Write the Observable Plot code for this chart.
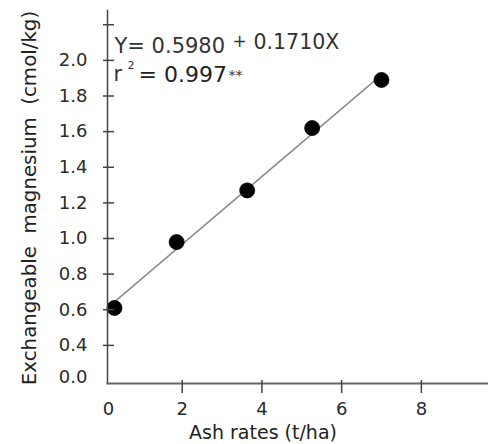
<!DOCTYPE html>
<html>
<head>
<meta charset="utf-8">
<script src="https://cdn.jsdelivr.net/npm/d3@7"></script>
<script src="https://cdn.jsdelivr.net/npm/@observablehq/plot@0.6"></script>
<style>
  html, body { margin: 0; padding: 0; background: #fff; }
  #chart { width: 488px; height: 444px; }
</style>
</head>
<body>
<div id="chart"></div>
<script>
// Data
const ashRates = [0.3, 1.86, 3.63, 5.26, 7.0];          // t/ha
const magnesium = [0.61, 0.98, 1.27, 1.62, 1.89];       // cmol/kg

// Tick values and labels
const yTickValues = [0.4, 0.6, 0.8, 1.0, 1.2, 1.4, 1.6, 1.8, 2.0, 2.2];
const yTickLabels = ["0.4", "0.6", "0.8", "1.0", "1.2", "1.4", "1.6", "1.8", "2.0", ""];
const yZeroValue = 0.22;       // where the (broken-axis) "0.0" label sits
const yZeroLabel = "0.0";
const xTickValues = [2, 4, 6, 8];
const xTickLabels = ["2", "4", "6", "8"];
const xZeroValue = 0.15;
const xZeroLabel = "0";

const xLabel = "Ash rates (t/ha)";
const yLabel = "Exchangeable  magnesium  (cmol/kg)";
const eqParts = ["Y= 0.5980", "+", "0.1710X"];
const r2Parts = ["r", "2", "= 0.997", "**"];

const data = ashRates.map((x, i) => ({x, y: magnesium[i]}));
const yLabelMap = new Map(yTickValues.map((v, i) => [v, yTickLabels[i]]));
const xLabelMap = new Map(xTickValues.map((v, i) => [v, xTickLabels[i]]));

const font = "DejaVu Sans";
const txt = (s, o) => Plot.text([s], {text: d => d, frameAnchor: "top-left", textAnchor: "start", lineAnchor: "bottom", fontFamily: font, fill: "#333", ...o});

const chart = Plot.plot({
  width: 488,
  height: 444,
  marginLeft: 107,
  marginRight: 0,
  marginTop: 10,
  marginBottom: 61,
  style: {fontFamily: font, background: "#fff", color: "#222"},
  x: {domain: [0.125, 9.685]},
  y: {domain: [0.186, 2.28]},
  marks: [
    Plot.linearRegressionY(data, {x: "x", y: "y", stroke: "#8a8a8a", strokeWidth: 1.5, ci: 0}),
    Plot.dot(data, {x: "x", y: "y", r: 7.5, fill: "#000", stroke: "#000", strokeWidth: 0.8}),
    Plot.frame({anchor: "left", stroke: "#444", strokeWidth: 1.5}),
    Plot.frame({anchor: "bottom", stroke: "#666", strokeWidth: 2}),
    Plot.axisY({ticks: yTickValues, tickSize: 11, dx: 7, fill: "none", stroke: "#444", strokeWidth: 1.5, label: null}),
    Plot.axisY({ticks: yTickValues, tickFormat: d => yLabelMap.get(d), tickSize: 0, tickPadding: 20, fontSize: 18, fill: "#2a2a2a", label: null}),
    Plot.axisY({ticks: [yZeroValue], tickFormat: () => yZeroLabel, tickSize: 0, tickPadding: 20, fontSize: 18, fill: "#2a2a2a", label: null}),
    Plot.axisX({ticks: xTickValues, tickSize: 13, dy: -3, fill: "none", stroke: "#444", strokeWidth: 1.5, label: null}),
    Plot.axisX({ticks: xTickValues, tickFormat: d => xLabelMap.get(d), tickSize: 0, tickPadding: 19, fontSize: 18, fill: "#2a2a2a", label: null}),
    Plot.axisX({ticks: [xZeroValue], tickFormat: () => xZeroLabel, tickSize: 0, tickPadding: 19, fontSize: 18, fill: "#2a2a2a", label: null}),
    Plot.text([xLabel], {text: d => d, frameAnchor: "bottom", textAnchor: "middle", dx: -35, dy: 49, lineAnchor: "middle", fontSize: 19, fontFamily: font, fill: "#222", ariaLabel: "x-label"}),
    Plot.text([yLabel], {text: d => d, frameAnchor: "left", textAnchor: "middle", rotate: -90, dx: -78, dy: 1, lineAnchor: "middle", fontSize: 19.8, fontFamily: font, fill: "#222", ariaLabel: "y-label"}),
    txt(eqParts[0], {dx: 7, dy: 42, fontSize: 21}),
    txt(eqParts[1], {dx: 125, dy: 36, fontSize: 17}),
    txt(eqParts[2], {dx: 146, dy: 38, fontSize: 20.5}),
    txt(r2Parts[0], {dx: 6, dy: 70, fontSize: 21}),
    txt(r2Parts[1], {dx: 20, dy: 58, fontSize: 11}),
    txt(r2Parts[2], {dx: 31, dy: 71, fontSize: 22, fill: "#222"}),
    txt(r2Parts[3], {dx: 121, dy: 69, fontSize: 14})
  ]
});
document.getElementById("chart").appendChild(chart);
</script>
</body>
</html>
